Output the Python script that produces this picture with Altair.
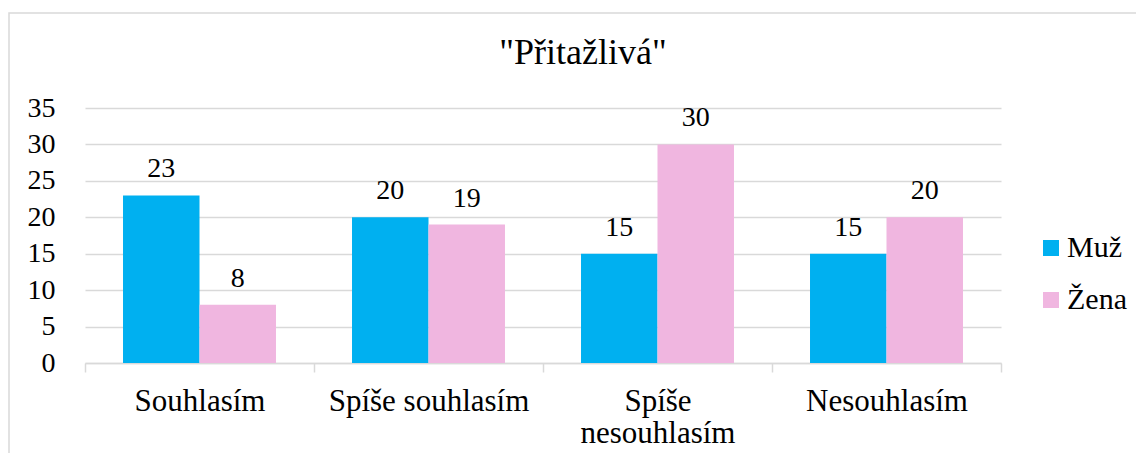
import altair as alt
import pandas as pd

categories = ["Souhlasím", "Spíše souhlasím", "Spíše nesouhlasím", "Nesouhlasím"]
series = ["Muž", "Žena"]
muz = [23, 20, 15, 15]
zena = [8, 19, 30, 20]
colors = ["#00B0F0", "#F0B6E0"]
y_ticks = [0, 5, 10, 15, 20, 25, 30, 35]

rows = []
for c, m, z in zip(categories, muz, zena):
    rows.append({"kat": c, "pohlavi": series[0], "hodnota": m})
    rows.append({"kat": c, "pohlavi": series[1], "hodnota": z})
df = pd.DataFrame(rows)

FONT = "Times New Roman, Liberation Serif, serif"
GRID = "#D9D9D9"

x = alt.X(
    "kat:N", sort=categories, title=None,
    scale=alt.Scale(paddingInner=0, paddingOuter=0),
    axis=alt.Axis(
        labelAngle=0, labelFontSize=31, labelFont=FONT, labelColor="#000",
        domainColor=GRID, domainWidth=1.5, tickColor=GRID, tickWidth=1.5,
        tickSize=9, tickBand="extent", labelPadding=14, labelLineHeight=32,
        labelLimit=0, grid=False,
        labelExpr="datum.label == 'Spíše nesouhlasím' ? ['Spíše', 'nesouhlasím'] : datum.label",
    ),
)
y = alt.Y(
    "hodnota:Q", title=None,
    scale=alt.Scale(domain=[0, 35], nice=False),
    axis=alt.Axis(
        values=y_ticks, labelFontSize=28, labelFont=FONT, labelColor="#000",
        domain=False, ticks=False, tickSize=0, labelPadding=30,
        gridColor=GRID, gridWidth=1.5,
    ),
)
xo = alt.XOffset("pohlavi:N", sort=series, scale=alt.Scale(paddingInner=0, paddingOuter=0.497))

base = alt.Chart(df).encode(x=x, y=y, xOffset=xo)

bars = base.mark_bar().encode(
    color=alt.Color(
        "pohlavi:N", sort=series,
        scale=alt.Scale(domain=series, range=colors),
        legend=alt.Legend(
            title=None, orient="none", legendX=951, legendY=125,
            symbolType="square", symbolSize=256, symbolStrokeWidth=0,
            labelFontSize=30, labelFont=FONT, labelColor="#000",
            rowPadding=22, labelOffset=1,
        ),
    )
)
text = base.mark_text(dy=-18, baseline="alphabetic", fontSize=28, font=FONT, color="#000").encode(
    text="hodnota:Q"
)

frame = alt.Chart(pd.DataFrame({"f": [0]})).mark_rect(
    fillOpacity=0, stroke=GRID, strokeWidth=1.5
).encode(x=alt.value(-76), x2=alt.value(1300), y=alt.value(-95), y2=alt.value(700))

chart = alt.layer(frame, bars, text).properties(
    width=916, height=255,
    padding={"left": 77, "top": 100, "right": 135, "bottom": 90},
    autosize=alt.AutoSizeParams(type="none"),
    title=alt.Title(
        '"Přitažlivá"', fontSize=36, font=FONT, fontWeight="normal", color="#000",
        anchor="middle", dx=40, offset=-88, baseline="alphabetic",
    ),
).configure(font=FONT).configure_view(stroke=None)

chart.save("out.html", embed_options={"renderer": "svg", "actions": False})
